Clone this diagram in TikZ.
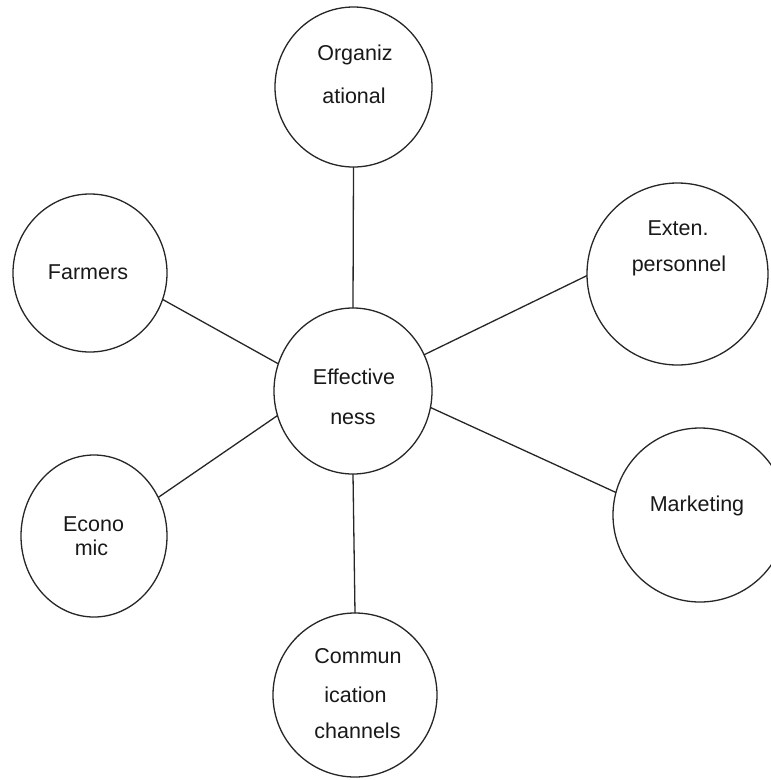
\documentclass[tikz,border=0pt]{standalone}
\usepackage{fontspec}
\setmainfont{Liberation Sans}
\usetikzlibrary{shapes.geometric}
\begin{document}
\begin{tikzpicture}[x=1pt,y=-1pt,
  bubble/.style={ellipse, draw=black!85, line width=1.3pt, inner sep=0pt, outer sep=0pt},
  link/.style={draw=black!85, line width=1.3pt},
  word/.style={anchor=base, inner sep=0pt, font=\fontsize{21.5}{24}\selectfont, text=black!90}]
% canvas
\clip (0,0) rectangle (771,780);
\fill[white] (0,0) rectangle (771,780);

% factor bubbles
\node[bubble, minimum width=157pt, minimum height=160pt] (org)  at (353.5,87)  {};
\node[bubble, minimum width=154pt, minimum height=158pt] (farm) at (90,273)    {};
\node[bubble, minimum width=181pt, minimum height=182pt] (ext)  at (677.5,274) {};
\node[bubble, minimum width=158pt, minimum height=166pt] (eff)  at (353,391)   {};
\node[bubble, minimum width=146pt, minimum height=162pt] (eco)  at (94,536)    {};
\node[bubble, minimum width=174pt, minimum height=174pt] (mkt)  at (700,515)   {};
\node[bubble, minimum width=164pt, minimum height=164pt] (com)  at (355,695)   {};

% labels
\node[word] (org1) at (355,60)  {Organiz};
\node[word] (org2) at (354,103) {ational};
\node[word] (farm1) at (88,279) {Farmers};
\node[word] (ext1) at (678,235) {Exten.};
\node[word] (ext2) at (679,271) {personnel};
\node[word] (eff1) at (354,384) {Effective};
\node[word] (eff2) at (353,424) {ness};
\node[word] (eco1) at (93.5,531) {Econo};
\node[word] (eco2) at (91.5,555) {mic};
\node[word] (mkt1) at (697,511) {Marketing};
\node[word] (com1) at (358,663) {Commun};
\node[word] (com2) at (355.5,702) {ication};
\node[word] (com3) at (357.5,738) {channels};

% spokes
\draw[link] (org.-90)  -- (eff.90);
\draw[link] (farm.-20) -- (eff.160);
\draw[link] (ext.181)  -- (eff.27);
\draw[link] (eco.31)   -- (eff.198);
\draw[link] (mkt.165)  -- (eff.-12);
\draw[link] (eff.-90)  -- (com.90);
\end{tikzpicture}
\end{document}
